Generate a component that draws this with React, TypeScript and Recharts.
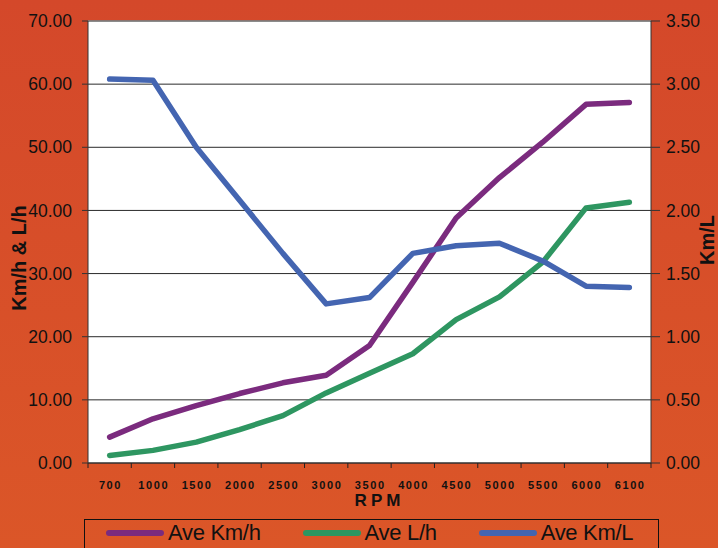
import React from 'react';
import { LineChart, Line, XAxis, YAxis, CartesianGrid, Legend, ReferenceLine, Label } from 'recharts';

// engine speed categories
const rpm = ['700', '1000', '1500', '2000', '2500', '3000', '3500', '4000', '4500', '5000', '5500', '6000', '6100'];

// values
const aveKmh = [4.1, 7.0, 9.1, 11.0, 12.7, 13.9, 18.6, 28.6, 38.8, 45.2, 50.8, 56.8, 57.1];
const aveLh = [1.2, 2.0, 3.3, 5.3, 7.5, 11.1, 14.2, 17.3, 22.7, 26.3, 31.8, 40.4, 41.3];
const aveKml = [3.04, 3.03, 2.5, 2.08, 1.66, 1.26, 1.31, 1.66, 1.72, 1.74, 1.6, 1.4, 1.39];

const seriesNames = ['Ave Km/h', 'Ave L/h', 'Ave Km/L'];

const leftTicks = [0, 10, 20, 30, 40, 50, 60, 70];
const rightTicks = [0, 0.5, 1, 1.5, 2, 2.5, 3, 3.5];

const data = rpm.map((r, i) => ({ rpm: r, kmh: aveKmh[i], lh: aveLh[i], kml: aveKml[i] }));

const FONT = '"Liberation Sans", Arial, sans-serif';
const INK = '#111';

// category label centred in its band, small tick marks on the band edges
const RpmTick = (props: any) => {
  const { x, y, payload, index, visibleTicksCount, width } = props;
  const half = payload.offset ? payload.offset : width / visibleTicksCount / 2;
  return (
    <g>
      <line x1={x - half} x2={x - half} y1={y} y2={y + 5} stroke="#222" />
      {index === visibleTicksCount - 1 && (
        <line x1={x + half} x2={x + half} y1={y} y2={y + 5} stroke="#222" />
      )}
      <text
        x={x + 0.8}
        y={y + 26}
        textAnchor="middle"
        fontFamily={FONT}
        fontSize={11}
        fontWeight="bold"
        letterSpacing={1.6}
        fill={INK}
      >
        {payload.value}
      </text>
    </g>
  );
};

const LegendBox = ({ payload }: any) => {
  const items = [...(payload || [])].sort(
    (a: any, b: any) => seriesNames.indexOf(a.value) - seriesNames.indexOf(b.value)
  );
  return (
    <div
      style={{
        border: `1px solid ${INK}`,
        height: 40,
        boxSizing: 'border-box',
        display: 'flex',
        alignItems: 'flex-start',
        paddingLeft: 21,
        gap: 42,
        fontFamily: FONT,
      }}
    >
      {items.map((p: any) => (
        <div key={p.value} style={{ display: 'flex', alignItems: 'center' }}>
          <span
            style={{ display: 'inline-block', width: 58, height: 6, borderRadius: 3, background: p.color, marginRight: 4 }}
          />
          <span style={{ fontSize: 22, color: INK, letterSpacing: -0.3 }}>{p.value}</span>
        </div>
      ))}
    </div>
  );
};

const sideTitle = (text: string, dxFromAxis: number, dyFromCenter: number, size: number) => (props: any) => {
  const vb = props.viewBox;
  const cx = vb.x + dxFromAxis;
  const cy = vb.y + vb.height / 2 + dyFromCenter;
  return (
    <text
      x={cx}
      y={cy}
      dy="0.36em"
      transform={`rotate(-90, ${cx}, ${cy})`}
      textAnchor="middle"
      fontFamily={FONT}
      fontSize={size}
      fontWeight="bold"
      fill={INK}
    >
      {text}
    </text>
  );
};

const rpmTitle = (props: any) => {
  const vb = props.viewBox;
  return (
    <text
      x={vb.x + vb.width / 2 + 10}
      y={vb.y + 43}
      textAnchor="middle"
      fontFamily={FONT}
      fontSize={17}
      fontWeight="bold"
      letterSpacing={4}
      fill={INK}
    >
      RPM
    </text>
  );
};

const yTick = { fill: INK, fontSize: 17.5, fontFamily: FONT };

export default function App() {
  return (
    <div
      style={{
        position: 'absolute',
        left: 0,
        top: 0,
        width: 718,
        height: 548,
        overflow: 'hidden',
        background: 'linear-gradient(#D4482A, #DB5628)',
      }}
    >
      <LineChart width={718} height={548} data={data} margin={{ top: 21, right: 0, bottom: 0, left: 0 }}>
        <CartesianGrid yAxisId="left" vertical={false} stroke="#2a2a2a" fill="#fff" fillOpacity={1} />
        <XAxis
          dataKey="rpm"
          scale="band"
          height={85}
          tickLine={false}
          tickSize={0}
          tickMargin={0}
          interval={0}
          axisLine={{ stroke: '#333' }}
          tick={<RpmTick />}
        >
          <Label content={rpmTitle} />
        </XAxis>
        <YAxis
          yAxisId="left"
          width={88}
          domain={[0, 70]}
          ticks={leftTicks}
          tickFormatter={(v: number) => v.toFixed(2)}
          tickSize={6}
          tickMargin={10}
          axisLine={{ stroke: '#333' }}
          tickLine={{ stroke: '#333' }}
          tick={yTick}
        >
          <Label content={sideTitle('Km/h & L/h', 19, 16, 20)} />
        </YAxis>
        <YAxis
          yAxisId="right"
          orientation="right"
          width={67}
          domain={[0, 3.5]}
          ticks={rightTicks}
          tickFormatter={(v: number) => v.toFixed(2)}
          tickSize={9}
          tickMargin={6}
          axisLine={{ stroke: '#333' }}
          tickLine={{ stroke: '#333' }}
          tick={yTick}
        >
          <Label content={sideTitle('Km/L', 55.5, -2, 20)} />
        </YAxis>
        <ReferenceLine yAxisId="left" y={70} stroke="#8a8a8a" strokeWidth={1.5} />
        <Legend
          verticalAlign="middle"
          align="center"
          layout="horizontal"
          wrapperStyle={{ left: 84, top: 519, width: 575, height: 40 }}
          content={<LegendBox />}
        />
        <Line
          yAxisId="left"
          dataKey="kmh"
          name={seriesNames[0]}
          stroke="#7B2B7E"
          strokeWidth={5.5}
          strokeLinecap="round"
          strokeLinejoin="round"
          dot={false}
          isAnimationActive={false}
        />
        <Line
          yAxisId="left"
          dataKey="lh"
          name={seriesNames[1]}
          stroke="#2E9661"
          strokeWidth={5.5}
          strokeLinecap="round"
          strokeLinejoin="round"
          dot={false}
          isAnimationActive={false}
        />
        <Line
          yAxisId="right"
          dataKey="kml"
          name={seriesNames[2]}
          stroke="#4465B1"
          strokeWidth={5.5}
          strokeLinecap="round"
          strokeLinejoin="round"
          dot={false}
          isAnimationActive={false}
        />
      </LineChart>
    </div>
  );
}
